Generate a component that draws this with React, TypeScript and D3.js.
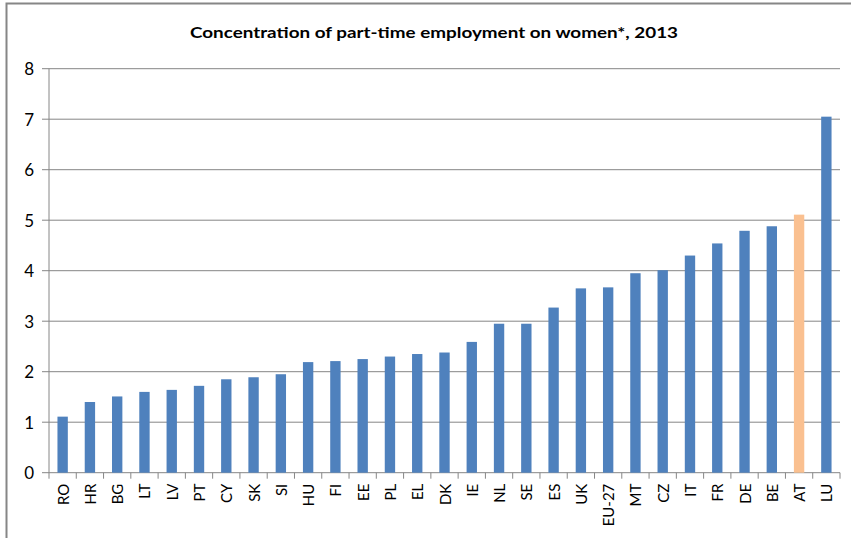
import React from "react";
import * as d3 from "d3";

const categories = ["RO","HR","BG","LT","LV","PT","CY","SK","SI","HU","FI","EE","PL","EL","DK","IE","NL","SE","ES","UK","EU-27","MT","CZ","IT","FR","DE","BE","AT","LU"];
const values = [1.11,1.40,1.51,1.60,1.64,1.72,1.85,1.89,1.95,2.19,2.21,2.25,2.30,2.35,2.38,2.59,2.95,2.95,3.27,3.65,3.67,3.95,4.01,4.30,4.54,4.79,4.88,5.11,7.05];
const highlighted = ["AT"];
const yTicks = [0,1,2,3,4,5,6,7,8];
const title = "Concentration of part-time employment on women*, 2013";

const W = 851, H = 538;
const left = 49, right = 840, top = 68.7, bottom = 472.7;
const FONT = "Lato, 'Open Sans', sans-serif";

export default function App() {
  const x = d3.scaleBand<string>().domain(categories).range([left, right]).paddingInner(0.62).paddingOuter(0.31);
  const y = d3.scaleLinear().domain([0, 8]).range([bottom, top]);
  const edges = d3.range(categories.length + 1).map(i => left + i * (right - left) / categories.length);

  return (
    <svg width={W} height={H} style={{ position: "absolute", left: 0, top: 0, background: "#fff" }}>
      <rect x={6.5} y={3.5} width={W + 10} height={H + 10} fill="#fff" stroke="#868686" strokeWidth={2} />
      <text x={434} y={38} textAnchor="middle" fontFamily={FONT} fontWeight="bold" fontSize={16} fill="#000" textLength={488} lengthAdjust="spacingAndGlyphs">{title}</text>
      {yTicks.map(t => (
        <g key={t}>
          {t > 0 && <line x1={left} x2={right} y1={y(t)} y2={y(t)} stroke="#868686" strokeWidth={1} />}
          <line x1={42} x2={left} y1={y(t)} y2={y(t)} stroke="#868686" strokeWidth={1} />
          <text x={34} y={y(t)} textAnchor="end" dominantBaseline="central" fontFamily={FONT} fontSize={17} fill="#000">{t}</text>
        </g>
      ))}
      <line x1={left} x2={left} y1={top} y2={bottom} stroke="#868686" strokeWidth={1} />
      <line x1={left} x2={right} y1={bottom} y2={bottom} stroke="#868686" strokeWidth={1} />
      {edges.map((e, i) => (
        <line key={i} x1={e} x2={e} y1={bottom} y2={bottom + 6} stroke="#868686" strokeWidth={1} />
      ))}
      {categories.map((c, i) => (
        <rect key={c} x={x(c)} y={y(values[i])} width={x.bandwidth()} height={bottom - y(values[i])}
          fill={highlighted.includes(c) ? "#FAC090" : "#4F81BD"} />
      ))}
      {categories.map(c => {
        const cx = (x(c) as number) + x.bandwidth() / 2;
        return (
          <text key={c} transform={`translate(${cx},${bottom + 11}) rotate(-90)`} textAnchor="end" dominantBaseline="central"
            fontFamily={FONT} fontSize={15} fill="#000">{c}</text>
        );
      })}
    </svg>
  );
}
